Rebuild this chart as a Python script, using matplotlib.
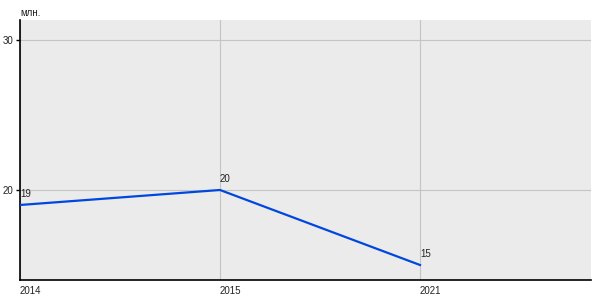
import matplotlib
matplotlib.use('Agg')
import matplotlib.pyplot as plt

# values
years = ['2014', '2015', '2021']
values = [19, 20, 15]
y_ticks = [20, 30]
unit_label = 'млн.'

plt.rcParams['font.family'] = ['Liberation Sans', 'DejaVu Sans']

fig = plt.figure(figsize=(6, 3), dpi=100)
ax = fig.add_axes([20 / 600, 20 / 300, 571 / 600, 260 / 300])
ax.set_facecolor('#ebebeb')

x = list(range(len(years)))
ax.plot(x, values, color='#0047e0', linewidth=1.6, zorder=3)

for xi, v in zip(x, values):
    ax.annotate(str(v), (xi, v), xytext=(0, 4), textcoords='offset points',
                ha='left', va='bottom', fontsize=7, color='#222222')

ax.set_xlim(0, 2.855)
ax.set_ylim(14, 31.33)
ax.set_xticks(x)
ax.set_xticklabels(years, ha='left')
ax.set_yticks(y_ticks)

ax.grid(True, color='#c4c4c4', linewidth=0.8, zorder=0)
ax.set_axisbelow(True)

for side in ['top', 'right']:
    ax.spines[side].set_visible(False)
for side in ['left', 'bottom']:
    ax.spines[side].set_color('black')
    ax.spines[side].set_linewidth(1.2)

ax.tick_params(axis='x', length=0, pad=4, labelsize=7, colors='#222222')
ax.tick_params(axis='y', length=3, width=1, pad=2, labelsize=7, colors='#222222')
ax.tick_params(axis='y', color='black')

fig.text(20 / 600, 1 - 13 / 300, unit_label, ha='left', va='center',
         fontsize=7, color='#222222')

fig.savefig('out.png', dpi=100)
